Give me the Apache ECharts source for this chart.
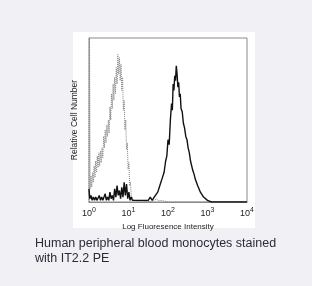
<!DOCTYPE html>
<html><head><meta charset="utf-8">
<script src="https://cdn.jsdelivr.net/npm/echarts@6/dist/echarts.min.js"></script>
<style>html,body{margin:0;padding:0;background:#f1f0f5;}#c{width:312px;height:286px;}</style>
</head><body><div id="c"></div>
<script>
// x values are log10 of fluorescence intensity (decades 10^0 .. 10^4)
var xTicks = [0, 1, 2, 3, 4];
var isotypeLog = [0.00, 0.01, 0.03, 0.05, 0.07, 0.09, 0.11, 0.13, 0.15, 0.17, 0.19, 0.21, 0.23, 0.25, 0.27, 0.29, 0.31, 0.33, 0.35, 0.37, 0.39, 0.41, 0.43, 0.45, 0.47, 0.49, 0.51, 0.53, 0.55, 0.57, 0.59, 0.61, 0.63, 0.65, 0.67, 0.69, 0.71, 0.73, 0.75, 0.77, 0.79, 0.81, 0.83, 0.85, 0.87, 0.89, 0.91, 0.93, 0.95, 0.97, 0.99, 1.01, 1.03, 1.05, 1.07, 1.09, 1.12, 1.16, 1.20, 1.30, 1.45, 1.60, 1.72, 1.76, 1.82, 2.00, 4.00];
var isotypeVal = [0, 120, 8, 16, 9, 18, 12, 22, 15, 25, 18, 28, 21, 30, 22, 31, 24, 33, 27, 40, 33, 44, 36, 47, 40, 50, 42, 58, 50, 66, 57, 72, 62, 76, 66, 82, 72, 90, 78, 88, 74, 84, 68, 76, 56, 62, 44, 50, 32, 36, 20, 24, 10, 12, 4, 5, 1, 2, 0.5, 0.5, 0.3, 0.2, 2, 0.5, 1, 0, 0];
var stainedLog = [0.00, 0.02, 0.05, 0.08, 0.11, 0.14, 0.17, 0.20, 0.23, 0.26, 0.29, 0.32, 0.35, 0.38, 0.41, 0.44, 0.47, 0.50, 0.53, 0.56, 0.59, 0.62, 0.65, 0.68, 0.71, 0.74, 0.77, 0.80, 0.83, 0.86, 0.89, 0.92, 0.95, 0.98, 1.01, 1.04, 1.07, 1.10, 1.15, 1.20, 1.25, 1.30, 1.35, 1.40, 1.45, 1.50, 1.55, 1.60, 1.65, 1.70, 1.74, 1.78, 1.82, 1.86, 1.90, 1.94, 1.97, 2.00, 2.03, 2.06, 2.09, 2.11, 2.13, 2.15, 2.17, 2.19, 2.21, 2.23, 2.25, 2.27, 2.29, 2.31, 2.33, 2.36, 2.39, 2.42, 2.45, 2.48, 2.51, 2.54, 2.57, 2.60, 2.63, 2.66, 2.69, 2.72, 2.75, 2.78, 2.82, 2.86, 2.90, 2.95, 3.00, 3.05, 3.10, 3.50, 4.00];
var stainedVal = [8, 2, 4, 1, 3, 1, 3, 1, 2, 4, 1, 3, 1, 2, 5, 1, 3, 1, 6, 2, 4, 1, 8, 3, 10, 4, 7, 2, 9, 3, 12, 4, 11, 2, 6, 1, 3, 1, 2, 1, 2, 1, 2, 1, 2, 1, 3, 1, 3, 2, 6, 9, 8, 15, 18, 25, 28, 38, 35, 50, 60, 56, 72, 68, 77, 74, 83, 78, 70, 73, 64, 66, 57, 55, 48, 45, 40, 38, 33, 30, 25, 24, 19, 17, 14, 13, 10, 9, 6, 5, 3, 2, 1, 0.5, 0, 0, 0];
var xTitle = 'Log Fluoresence Intensity';
var yTitle = 'Relative Cell Number';
var captionLines = ['Human peripheral blood monocytes stained', 'with IT2.2 PE'];

function pairs(xs, ys) { return xs.map(function (x, i) { return [x, ys[i]]; }); }

var chart = echarts.init(document.getElementById('c'), null, {renderer: 'canvas'});
var font = 'Liberation Sans, Arial, sans-serif';
chart.setOption({
  backgroundColor: '#f1f0f5',
  animation: false,
  grid: {left: 89, top: 38, width: 158, height: 164, show: true, borderColor: '#8a8a8a', borderWidth: 1, backgroundColor: 'transparent'},
  graphic: [
    {type: 'rect', z: -10, shape: {x: 73, y: 32, width: 182, height: 196}, style: {fill: '#ffffff'}},
    {type: 'text', left: 35, top: 236, style: {text: captionLines.join('\n'), font: '12.5px ' + font, fill: '#2b2b38', lineHeight: 15}}
  ],
  xAxis: {
    type: 'value', min: 0, max: 4, interval: 1,
    axisLine: {show: true, lineStyle: {color: '#8a8a8a', width: 1}},
    axisTick: {show: false}, splitLine: {show: false},
    axisLabel: {
      margin: 5, color: '#222', fontFamily: font,
      formatter: function (v) { return '{b|10}{s|' + v + '}'; },
      rich: {b: {fontSize: 9, fontFamily: font, color: '#222'}, s: {fontSize: 7, fontFamily: font, color: '#222', padding: [0, 0, 6, 0]}}
    },
    name: xTitle, nameLocation: 'middle', nameGap: 14,
    nameTextStyle: {fontSize: 8, fontFamily: font, color: '#222'}
  },
  yAxis: {
    type: 'value', min: 0, max: 100,
    axisLine: {show: false}, axisTick: {show: false}, axisLabel: {show: false}, splitLine: {show: false},
    name: yTitle, nameLocation: 'middle', nameGap: 10, nameRotate: 90,
    nameTextStyle: {fontSize: 8.5, fontFamily: font, color: '#222'}
  },
  series: [
    {type: 'line', data: pairs(isotypeLog, isotypeVal), showSymbol: false, clip: true,
     lineStyle: {color: '#808080', width: 1, type: 'dotted'}, z: 2},
    {type: 'line', data: pairs(stainedLog, stainedVal), showSymbol: false, clip: true,
     lineStyle: {color: '#111', width: 1.4}, z: 3}
  ]
});
</script></body></html>
